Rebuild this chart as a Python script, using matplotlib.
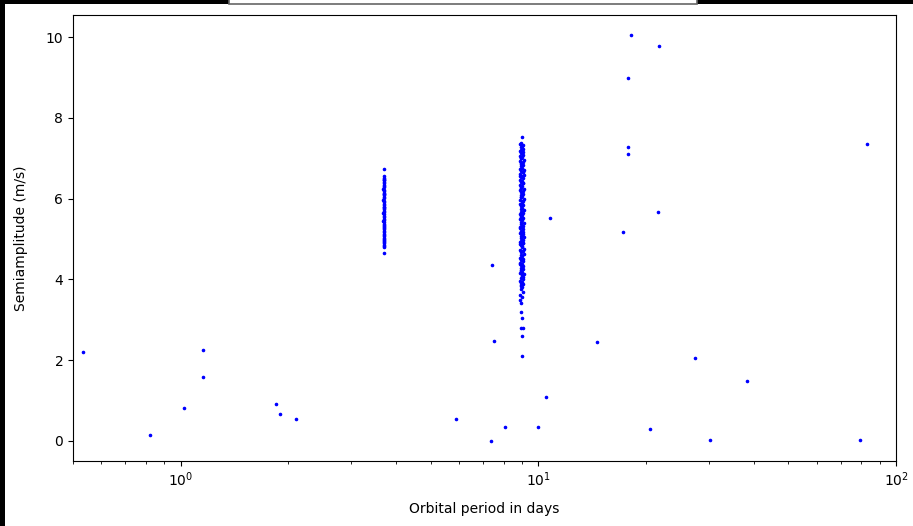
import matplotlib
matplotlib.use("Agg")
import matplotlib.pyplot as plt
from matplotlib.patches import Rectangle

# Isolated planets: orbital period (days) and RV semiamplitude (m/s)
period_single = [0.532, 0.819, 1.02, 1.152, 1.152, 1.844, 1.89, 2.097, 5.88, 7.36,
                 7.40, 7.51, 8.06, 10.0, 10.5, 10.8, 14.6, 17.2, 17.8, 17.8,
                 17.8, 18.1, 20.5, 21.6, 21.7, 30.2, 27.4, 38.3, 79.4, 83.0]
k_single = [2.19, 0.15, 0.80, 2.26, 1.57, 0.92, 0.65, 0.55, 0.55, 0.0,
            4.35, 2.46, 0.35, 0.35, 1.09, 5.52, 2.44, 5.17, 9.00, 7.29,
            7.11, 10.05, 0.30, 5.67, 9.78, 0.03, 2.06, 1.47, 0.03, 7.36]

# Group of solutions near P ~ 3.7 d
period_a = [3.70, 3.70, 3.71, 3.70, 3.69, 3.70, 3.71, 3.70, 3.70, 3.69,
            3.67, 3.70, 3.71, 3.70, 3.69, 3.70, 3.71, 3.70, 3.67, 3.70,
            3.69, 3.70, 3.71, 3.70, 3.70, 3.69, 3.70, 3.71, 3.67, 3.70,
            3.70, 3.69, 3.71, 3.70, 3.67, 3.70, 3.69, 3.70, 3.71, 3.70,
            3.70, 3.69, 3.70, 3.71, 3.70, 3.69, 3.70, 3.71, 3.70, 3.69,
            3.70, 3.71, 3.70, 3.69, 3.70, 3.71, 3.69, 3.70, 3.71, 3.70]
k_a = [6.74, 6.55, 6.51, 6.48, 6.45, 6.42, 6.38, 6.35, 6.31, 6.28,
       6.24, 6.21, 6.18, 6.14, 6.11, 6.08, 6.04, 6.01, 5.97, 5.94,
       5.91, 5.87, 5.84, 5.80, 5.77, 5.74, 5.70, 5.67, 5.65, 5.61,
       5.57, 5.54, 5.50, 5.47, 5.45, 5.41, 5.37, 5.34, 5.30, 5.27,
       5.24, 5.20, 5.17, 5.13, 5.10, 5.07, 5.03, 5.00, 4.96, 4.93,
       4.90, 4.86, 4.83, 4.80, 4.65, 6.46, 6.12, 5.79, 5.33, 4.98]

# Group of solutions near P ~ 9 d
period_b = [9.02, 8.95, 8.90, 9.05, 8.98, 8.92, 9.08, 8.96, 8.88, 9.03,
            8.94, 9.06, 8.91, 9.00, 8.97, 9.10, 8.89, 9.04, 8.95, 9.07,
            8.92, 9.01, 8.87, 9.09, 8.96, 9.03, 8.90, 9.12, 8.98, 8.93,
            9.05, 8.88, 9.00, 8.95, 9.08, 8.91, 9.02, 8.97, 9.11, 8.89,
            9.04, 8.94, 9.07, 8.92, 9.00, 8.96, 9.13, 8.90, 9.03, 8.98,
            8.87, 9.06, 8.95, 9.01, 8.92, 9.09, 8.97, 9.04, 8.89, 9.02,
            8.94, 9.08, 8.91, 9.00, 8.96, 9.11, 8.93, 9.05, 8.99, 8.88,
            9.03, 8.95, 9.07, 8.90, 9.01, 8.97, 9.10, 8.92, 9.04, 8.96,
            8.89, 9.06, 8.94, 9.02, 8.98, 9.09, 8.91, 9.03, 8.95, 9.12,
            8.93, 9.00, 8.88, 9.05, 8.97, 9.08, 8.90, 9.02, 8.96, 9.04,
            8.92, 9.07, 8.95, 9.01, 8.89, 9.10, 8.98, 9.03, 8.94, 9.06,
            8.91, 9.00, 8.97, 9.04, 8.95, 9.02, 8.93, 9.05, 8.90, 8.98,
            8.86, 8.97, 8.95, 8.99, 8.95, 9.06, 8.99, 8.99, 8.87, 8.87,
            8.87, 9.00, 8.93, 9.03, 8.96, 9.01, 8.94, 9.05, 8.97, 8.92,
            8.98, 8.93, 9.04, 8.95, 9.02, 8.91, 9.06, 8.96, 9.00, 8.94]
k_b = [7.54, 7.39, 7.36, 7.33, 7.30, 7.27, 7.24, 7.21, 7.18, 7.15,
       7.12, 7.09, 7.06, 7.03, 7.00, 6.96, 6.93, 6.90, 6.87, 6.84,
       6.80, 6.77, 6.74, 6.71, 6.68, 6.65, 6.62, 6.59, 6.57, 6.54,
       6.50, 6.47, 6.44, 6.41, 6.38, 6.35, 6.31, 6.28, 6.25, 6.22,
       6.19, 6.16, 6.12, 6.09, 6.06, 6.03, 6.00, 5.97, 5.93, 5.90,
       5.87, 5.84, 5.81, 5.78, 5.74, 5.71, 5.68, 5.65, 5.62, 5.59,
       5.55, 5.52, 5.49, 5.46, 5.43, 5.40, 5.36, 5.33, 5.30, 5.27,
       5.24, 5.21, 5.17, 5.14, 5.11, 5.08, 5.05, 5.02, 4.98, 4.95,
       4.92, 4.89, 4.86, 4.83, 4.79, 4.76, 4.73, 4.70, 4.67, 4.64,
       4.60, 4.57, 4.54, 4.51, 4.48, 4.45, 4.41, 4.38, 4.35, 4.32,
       4.29, 4.26, 4.22, 4.19, 4.16, 4.13, 4.10, 4.07, 4.03, 4.00,
       3.97, 3.94, 3.91, 3.88, 3.84, 3.81, 3.75, 3.68, 3.60, 3.55,
       3.48, 3.41, 3.18, 3.03, 2.79, 2.79, 2.59, 2.09, 6.57, 4.88,
       4.38, 7.31, 7.02, 6.66, 6.27, 5.95, 5.58, 5.12, 4.71, 4.20,
       7.20, 6.88, 6.40, 6.05, 5.66, 5.29, 4.90, 4.52, 4.09, 3.86]

periods = period_single + period_a + period_b
amplitudes = k_single + k_a + k_b

fig = plt.figure(figsize=(9.13, 5.26), dpi=100)
ax = fig.add_axes([0.080, 0.1236, 0.9014, 0.8479])

ax.scatter(periods, amplitudes, s=2.5, c="blue")
ax.set_xscale("log")
ax.set_xlim(0.5, 100)
ax.set_xlabel("Orbital period in days")
ax.set_ylabel("Semiamplitude (m/s)")
ax.xaxis.set_label_coords(0.5, -0.092)
ax.yaxis.set_label_coords(-0.055, 0.5)

# dark frame strips along the left and top edges
fig.patches.append(Rectangle((0, 0), 5 / 913, 1, transform=fig.transFigure,
                             facecolor="black", edgecolor="none", zorder=10))
fig.patches.append(Rectangle((0, 1 - 4 / 526), 1, 4 / 526, transform=fig.transFigure,
                             facecolor="black", edgecolor="none", zorder=10))
fig.patches.append(Rectangle((229 / 913, 1 - 3.5 / 526), 468 / 913, 6 / 526,
                             transform=fig.transFigure, facecolor="white",
                             edgecolor="#666666", linewidth=1.2, zorder=11))

fig.savefig("out.png", dpi=100)
